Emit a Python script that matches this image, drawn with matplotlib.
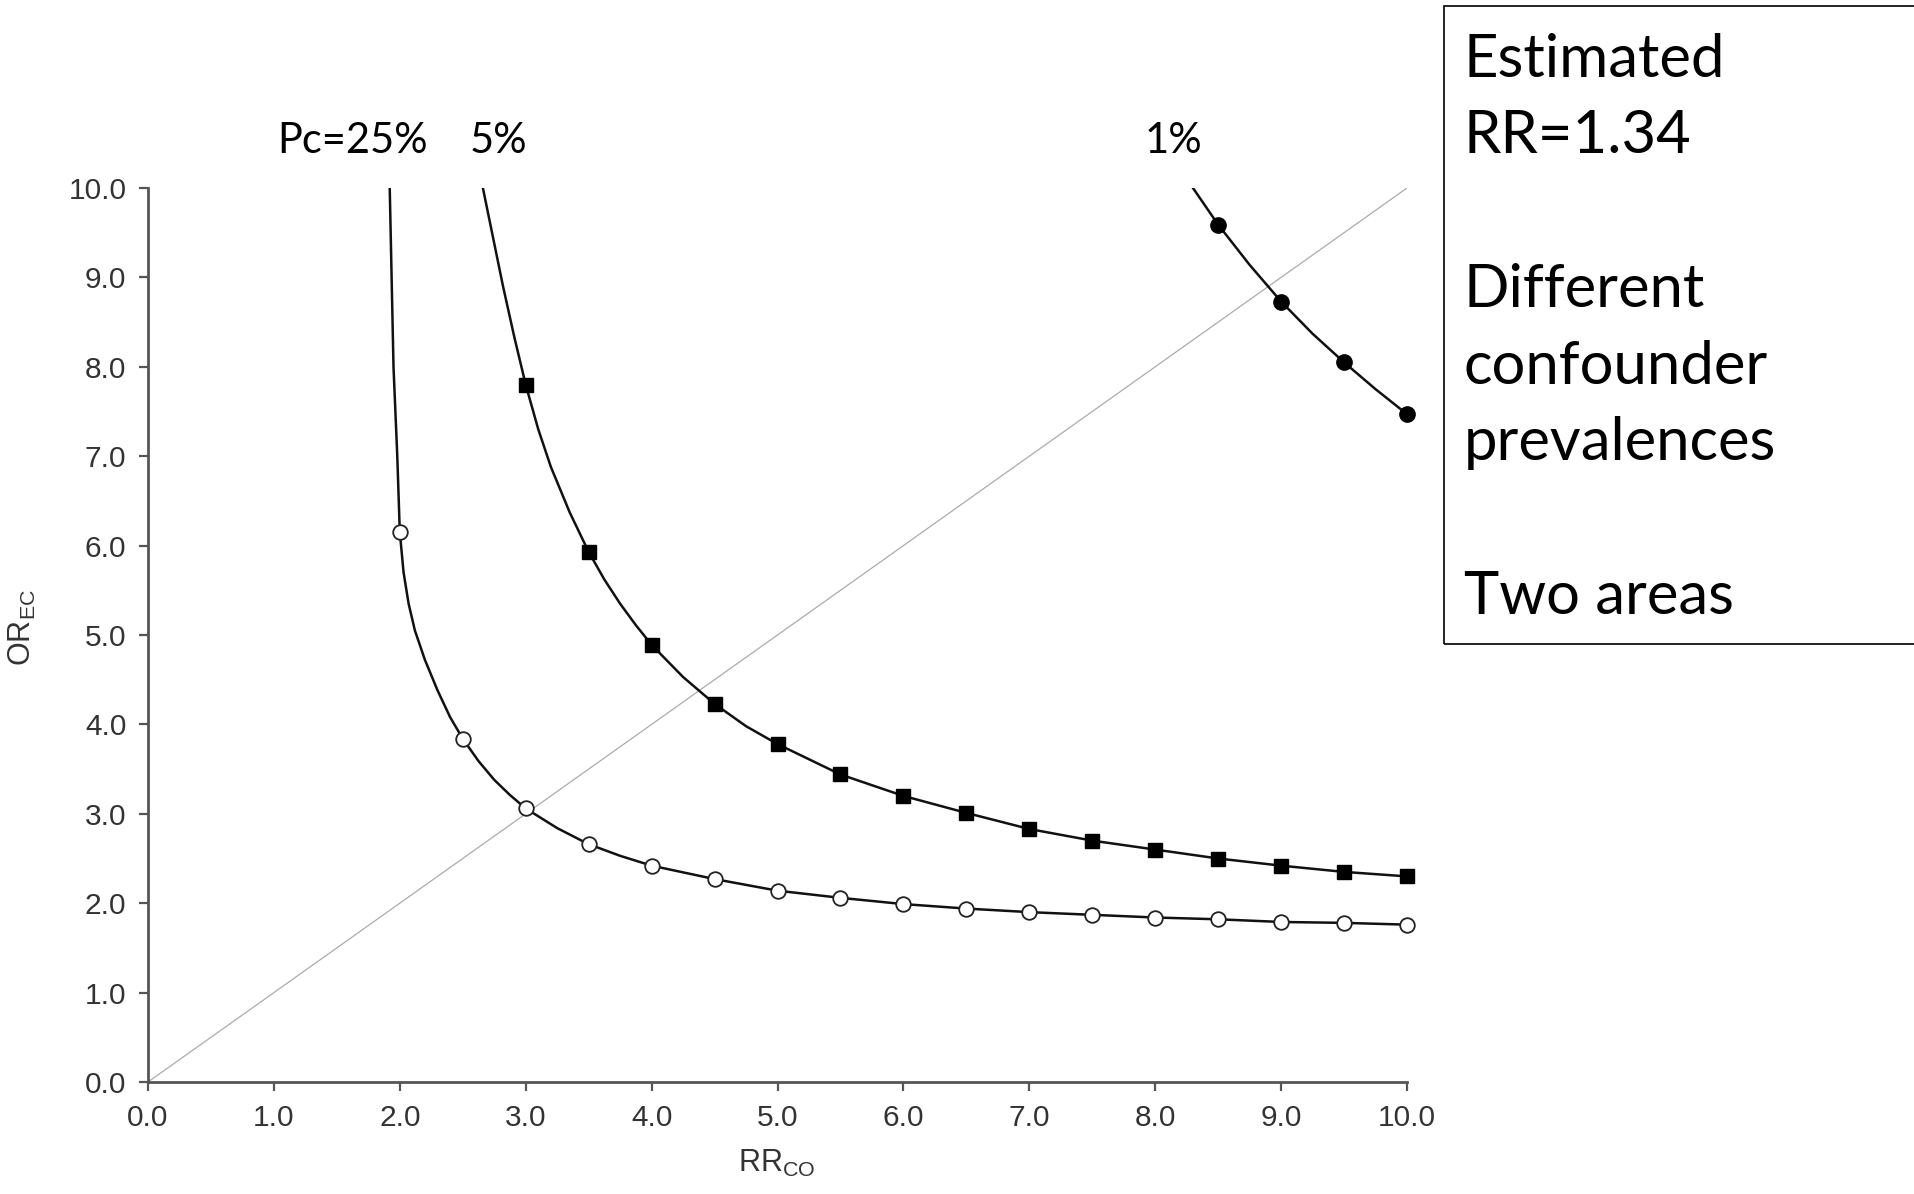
import matplotlib
matplotlib.use("Agg")
import matplotlib.pyplot as plt
from matplotlib.patches import Rectangle
from matplotlib.ticker import FormatStrFormatter

# ── Data ──
rr_25 = [2.0, 2.5, 3.0, 3.5, 4.0, 4.5, 5.0, 5.5, 6.0, 6.5, 7.0, 7.5, 8.0, 8.5, 9.0, 9.5, 10.0]
or_25 = [6.15, 3.84, 3.06, 2.66, 2.42, 2.27, 2.14, 2.06, 1.99, 1.94, 1.90, 1.87, 1.84, 1.82, 1.79, 1.78, 1.76]

rr_5 = [3.0, 3.5, 4.0, 4.5, 5.0, 5.5, 6.0, 6.5, 7.0, 7.5, 8.0, 8.5, 9.0, 9.5, 10.0]
or_5 = [7.80, 5.93, 4.89, 4.23, 3.78, 3.44, 3.20, 3.01, 2.83, 2.70, 2.60, 2.50, 2.42, 2.35, 2.30]

rr_1 = [8.5, 9.0, 9.5, 10.0]
or_1 = [9.59, 8.73, 8.05, 7.47]

# curve traces (incl. parts above the markers)
line25_rr = [1.92, 1.95, 1.98, 2.0, 2.03, 2.07, 2.12, 2.2, 2.3, 2.4, 2.5, 2.625, 2.75, 2.875,
             3.0, 3.25, 3.5, 3.75, 4.0, 4.5, 5.0, 5.5, 6.0, 6.5, 7.0, 7.5, 8.0, 8.5, 9.0,
             9.5, 10.0]
line25_or = [10.0, 8.0, 7.0, 6.15, 5.70, 5.35, 5.05, 4.72, 4.38, 4.08, 3.84, 3.59, 3.38, 3.21,
             3.06, 2.84, 2.66, 2.53, 2.42, 2.27, 2.14, 2.06, 1.99, 1.94, 1.90, 1.87, 1.84, 1.82, 1.79,
             1.78, 1.76]

line5_rr = [2.66, 2.74, 2.82, 2.91, 3.0, 3.1, 3.2, 3.35, 3.5, 3.625, 3.75, 3.875, 4.0, 4.25,
            4.5, 4.75, 5.0, 5.5, 6.0, 6.5, 7.0, 7.5, 8.0, 8.5, 9.0, 9.5, 10.0]
line5_or = [10.0, 9.45, 8.90, 8.33, 7.80, 7.30, 6.88, 6.37, 5.93, 5.62, 5.35, 5.11, 4.89, 4.53,
            4.23, 3.98, 3.78, 3.44, 3.20, 3.01, 2.83, 2.70, 2.60, 2.50, 2.42, 2.35, 2.30]

line1_rr = [8.3, 8.5, 8.75, 9.0, 9.25, 9.5, 9.75, 10.0]
line1_or = [10.0, 9.59, 9.14, 8.73, 8.37, 8.05, 7.75, 7.47]

prev_labels = ["Pc=25%", "5%", "1%"]
box_lines = ["Estimated", "RR=1.34", "Different", "confounder", "prevalences", "Two areas"]

plt.rcParams['font.family'] = ['Liberation Sans', 'DejaVu Sans']
plt.rcParams['mathtext.fontset'] = 'custom'
plt.rcParams['mathtext.rm'] = 'Liberation Sans'

W, H = 1915, 1194
fig = plt.figure(figsize=(W / 100, H / 100), dpi=100)
ax = fig.add_axes([148 / W, 1 - 1082 / H, (1407 - 148) / W, (1082 - 188) / H])

# reference diagonal
ax.plot([0, 10], [0, 10], color='#ababab', lw=0.9, zorder=1)

# curves
ax.plot(line25_rr, line25_or, color='#111111', lw=1.8, zorder=2)
ax.plot(line5_rr, line5_or, color='#111111', lw=1.8, zorder=2)
ax.plot(line1_rr, line1_or, color='#111111', lw=1.8, zorder=2)

# markers
ax.plot(rr_25, or_25, ls='none', marker='o', ms=10.5, mfc='white', mec='#222222',
        mew=1.3, zorder=3, clip_on=False)
ax.plot(rr_5, or_5, ls='none', marker='s', ms=9.5, color='black', zorder=3, clip_on=False)
ax.plot(rr_1, or_1, ls='none', marker='o', ms=11, color='black', zorder=3, clip_on=False)

ax.set_xlim(0, 10)
ax.set_ylim(0, 10)
ax.set_xticks(range(11))
ax.set_yticks(range(11))
ax.xaxis.set_major_formatter(FormatStrFormatter('%.1f'))
ax.yaxis.set_major_formatter(FormatStrFormatter('%.1f'))

for side in ['top', 'right']:
    ax.spines[side].set_visible(False)
for side in ['left', 'bottom']:
    ax.spines[side].set_color('#555555')
    ax.spines[side].set_linewidth(2.0)

ax.tick_params(direction='out', length=6.5, width=1.6, color='#555555',
               labelcolor='#333333', labelsize=21.5, pad=9)

ax.set_xlabel(r'RR$_{\mathrm{CO}}$', fontsize=22, color='#333333')
ax.set_ylabel(r'OR$_{\mathrm{EC}}$', fontsize=22, color='#333333')
ax.xaxis.set_label_coords(0.4996, -0.0906)
ax.xaxis.label.set_va('center')
ax.yaxis.set_label_coords(-0.100, 0.508)
ax.yaxis.label.set_va('center')

# prevalence labels above the curves
label_x = [277, 470, 1145]
for txt, px in zip(prev_labels, label_x):
    fig.text(px / W, 1 - 153 / H, txt, fontsize=30, family='Lato',
             ha='left', va='baseline', color='black')

# text box on the right
fig.patches.append(Rectangle((1443.6 / W, 1 - 643.6 / H), (1925 - 1443.6) / W, (643.6 - 6) / H,
                             transform=fig.transFigure, fill=False, ec='black', lw=1.2))
baselines = [77, 153, 307, 384, 460, 614]
for txt, by in zip(box_lines, baselines):
    fig.text(1464 / W, 1 - by / H, txt, fontsize=43, family='Lato',
             ha='left', va='baseline', color='black')

fig.savefig('out.png', dpi=100)
